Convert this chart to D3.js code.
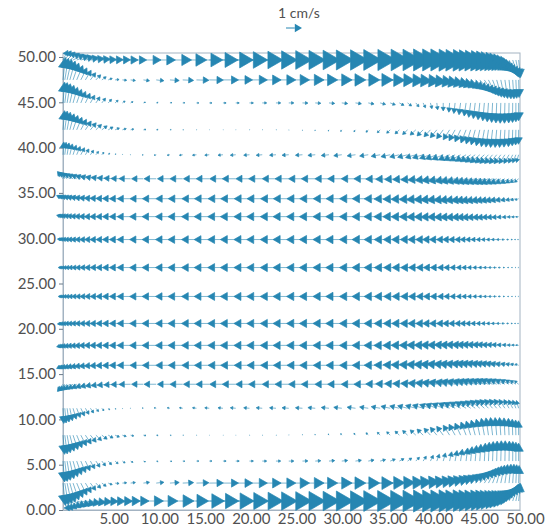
<!DOCTYPE html>
<html><head><meta charset="utf-8">
<script src="https://cdn.jsdelivr.net/npm/d3@7"></script>
<style>
body{margin:0;background:#fff}
svg{display:block}
text{font-family:Lato,"Open Sans",sans-serif}
</style></head><body>
<svg id="chart" width="556" height="527"></svg>
<script>
// Grid columns (cm): 15 near the left wall, 18 in the interior, 26 near the right wall
const xCols = [0,0.2,0.45,0.75,1.1,1.5,1.95,2.45,3.0,3.6,4.25,4.95,5.7,6.5,7.4,
  8.8,10.2,11.7,13.1,14.6,16.0,17.5,18.9,20.4,21.8,23.3,24.7,26.2,27.6,29.1,30.5,32.0,33.4,
  34.7,35.8,36.8,37.7,38.6,39.4,40.2,40.9,41.6,42.3,42.9,43.5,44.1,44.6,45.1,45.6,46.1,46.55,47.0,47.45,47.9,48.35,48.8,49.2,49.55,49.85];

// Grid rows (cm), top to bottom
const yRows = [49.67,47.47,44.93,41.96,39.21,36.56,34.36,32.38,29.85,26.76,23.57,20.59,18.17,15.97,13.88,11.23,8.26,5.40,2.97,0.99];

// Horizontal velocity u (cm/s), one list per row
const uRows = [
 [0.3,0.4,0.5,0.6,0.68,0.75,0.8,0.84,0.87,0.9,0.92,0.94,0.96,0.98,1.0, 1.1,1.2,1.35,1.5,1.65,1.8,1.9,2.0,2.1,2.2,2.25,2.3,2.35,2.4,2.45,2.5,2.55,2.6, 2.6,2.65,2.65,2.65,2.65,2.6,2.6,2.55,2.5,2.45,2.4,2.3,2.2,2.1,2.0,1.85,1.7,1.5,1.3,1.1,0.9,0.7,0.5,0.35,0.22,0.12],
 [0.15,0.22,0.28,0.33,0.36,0.38,0.38,0.36,0.33,0.3,0.27,0.25,0.25,0.27,0.3, 0.38,0.48,0.58,0.68,0.78,0.88,0.97,1.05,1.12,1.18,1.24,1.3,1.35,1.4,1.45,1.5,1.52,1.55, 1.55,1.55,1.55,1.52,1.5,1.45,1.4,1.35,1.28,1.2,1.12,1.03,0.94,0.85,0.75,0.65,0.55,0.46,0.38,0.3,0.23,0.17,0.12,0.08,0.05,0.03],
 [0.1,0.15,0.2,0.25,0.28,0.3,0.3,0.29,0.27,0.25,0.23,0.21,0.19,0.17,0.15, 0.13,0.12,0.12,0.13,0.15,0.17,0.2,0.22,0.25,0.28,0.3,0.32,0.34,0.35,0.36,0.37,0.37,0.36, 0.34,0.32,0.29,0.25,0.2,0.15,0.1,0.05,0,-0.05,-0.08,-0.1,-0.12,-0.12,-0.12,-0.11,-0.1,-0.08,-0.06,-0.05,-0.04,-0.03,-0.02,-0.01,0,0],
 [0.1,0.15,0.2,0.26,0.3,0.33,0.35,0.36,0.36,0.35,0.33,0.3,0.27,0.24,0.2, 0.16,0.12,0.08,0.05,0.03,0.02,0.02,0.02,0.03,0.03,0.03,0.02,0,-0.02,-0.04,-0.07,-0.1,-0.14, -0.18,-0.22,-0.27,-0.31,-0.35,-0.38,-0.4,-0.41,-0.41,-0.4,-0.38,-0.35,-0.32,-0.28,-0.25,-0.22,-0.19,-0.16,-0.13,-0.1,-0.08,-0.06,-0.04,-0.03,-0.02,-0.01],
 [0.05,0.08,0.12,0.16,0.2,0.22,0.23,0.22,0.2,0.17,0.13,0.09,0.05,0.01,-0.03, -0.08,-0.13,-0.17,-0.21,-0.25,-0.28,-0.31,-0.34,-0.36,-0.38,-0.4,-0.42,-0.44,-0.46,-0.48,-0.5,-0.52,-0.54, -0.56,-0.58,-0.6,-0.62,-0.64,-0.66,-0.68,-0.7,-0.7,-0.7,-0.7,-0.68,-0.66,-0.64,-0.62,-0.6,-0.57,-0.54,-0.5,-0.46,-0.42,-0.37,-0.32,-0.26,-0.2,-0.14],
 [-0.35,-0.4,-0.44,-0.48,-0.52,-0.55,-0.58,-0.61,-0.63,-0.65,-0.67,-0.69,-0.7,-0.71,-0.72, -0.74,-0.76,-0.78,-0.8,-0.81,-0.82,-0.83,-0.84,-0.85,-0.85,-0.86,-0.86,-0.87,-0.87,-0.88,-0.88,-0.89,-0.9, -0.9,-0.91,-0.92,-0.93,-0.94,-0.95,-0.95,-0.95,-0.94,-0.93,-0.92,-0.9,-0.88,-0.86,-0.84,-0.82,-0.8,-0.77,-0.74,-0.7,-0.66,-0.6,-0.53,-0.45,-0.36,-0.26],
 [-0.4,-0.45,-0.5,-0.54,-0.58,-0.62,-0.65,-0.68,-0.71,-0.73,-0.75,-0.77,-0.79,-0.81,-0.83, -0.84,-0.86,-0.88,-0.9,-0.91,-0.92,-0.93,-0.94,-0.95,-0.95,-0.96,-0.96,-0.97,-0.97,-0.98,-0.98,-0.99,-1.0, -1.0,-1.01,-1.02,-1.03,-1.04,-1.04,-1.04,-1.03,-1.02,-1.0,-0.98,-0.96,-0.94,-0.92,-0.9,-0.87,-0.84,-0.8,-0.76,-0.72,-0.67,-0.6,-0.52,-0.43,-0.33,-0.22],
 [-0.4,-0.45,-0.5,-0.54,-0.58,-0.62,-0.65,-0.68,-0.71,-0.73,-0.75,-0.77,-0.79,-0.81,-0.84, -0.86,-0.88,-0.9,-0.92,-0.93,-0.94,-0.95,-0.96,-0.97,-0.97,-0.98,-0.98,-0.99,-0.99,-1.0,-1.0,-1.0,-1.01, -1.01,-1.02,-1.03,-1.03,-1.03,-1.02,-1.01,-1.0,-0.98,-0.96,-0.94,-0.92,-0.9,-0.87,-0.84,-0.8,-0.76,-0.72,-0.67,-0.62,-0.56,-0.49,-0.41,-0.33,-0.25,-0.17],
 [-0.35,-0.4,-0.45,-0.5,-0.54,-0.58,-0.62,-0.65,-0.68,-0.71,-0.74,-0.76,-0.79,-0.81,-0.84, -0.86,-0.88,-0.9,-0.92,-0.93,-0.94,-0.95,-0.96,-0.97,-0.97,-0.98,-0.98,-0.99,-0.99,-1.0,-1.0,-1.0,-1.01, -1.0,-1.0,-1.0,-0.99,-0.97,-0.95,-0.92,-0.89,-0.86,-0.82,-0.78,-0.74,-0.7,-0.65,-0.6,-0.55,-0.5,-0.44,-0.38,-0.32,-0.26,-0.2,-0.15,-0.11,-0.08,-0.06],
 [-0.3,-0.35,-0.4,-0.45,-0.5,-0.54,-0.58,-0.62,-0.66,-0.7,-0.73,-0.76,-0.79,-0.81,-0.84, -0.86,-0.88,-0.9,-0.92,-0.93,-0.94,-0.95,-0.96,-0.97,-0.97,-0.98,-0.98,-0.99,-0.99,-1.0,-1.0,-1.0,-1.01, -1.0,-0.99,-0.98,-0.96,-0.94,-0.91,-0.88,-0.84,-0.8,-0.75,-0.7,-0.65,-0.6,-0.54,-0.48,-0.42,-0.36,-0.3,-0.25,-0.2,-0.16,-0.12,-0.09,-0.07,-0.05,-0.04],
 [-0.3,-0.35,-0.4,-0.45,-0.5,-0.54,-0.58,-0.62,-0.66,-0.7,-0.73,-0.76,-0.79,-0.81,-0.84, -0.86,-0.88,-0.9,-0.92,-0.93,-0.94,-0.95,-0.96,-0.97,-0.97,-0.98,-0.98,-0.99,-0.99,-1.0,-1.0,-1.0,-1.01, -1.0,-0.99,-0.98,-0.96,-0.94,-0.91,-0.88,-0.84,-0.8,-0.75,-0.7,-0.65,-0.6,-0.54,-0.48,-0.42,-0.36,-0.3,-0.25,-0.2,-0.16,-0.12,-0.09,-0.07,-0.05,-0.04],
 [-0.35,-0.4,-0.45,-0.5,-0.54,-0.58,-0.62,-0.65,-0.68,-0.71,-0.74,-0.76,-0.79,-0.81,-0.84, -0.86,-0.88,-0.9,-0.92,-0.93,-0.94,-0.95,-0.96,-0.97,-0.97,-0.98,-0.98,-0.99,-0.99,-1.0,-1.0,-1.0,-1.01, -1.0,-1.0,-1.0,-0.99,-0.97,-0.95,-0.92,-0.89,-0.86,-0.82,-0.78,-0.74,-0.7,-0.65,-0.6,-0.55,-0.5,-0.44,-0.38,-0.32,-0.26,-0.2,-0.15,-0.11,-0.08,-0.06],
 [-0.4,-0.45,-0.5,-0.54,-0.58,-0.62,-0.65,-0.68,-0.71,-0.73,-0.75,-0.77,-0.79,-0.81,-0.84, -0.86,-0.88,-0.9,-0.92,-0.93,-0.94,-0.95,-0.96,-0.97,-0.97,-0.98,-0.98,-0.99,-0.99,-1.0,-1.0,-1.0,-1.01, -1.01,-1.02,-1.03,-1.03,-1.03,-1.02,-1.01,-1.0,-0.98,-0.96,-0.94,-0.92,-0.9,-0.87,-0.84,-0.8,-0.76,-0.72,-0.67,-0.62,-0.56,-0.49,-0.41,-0.33,-0.25,-0.17],
 [-0.4,-0.45,-0.5,-0.54,-0.58,-0.62,-0.65,-0.68,-0.71,-0.73,-0.75,-0.77,-0.79,-0.81,-0.83, -0.84,-0.86,-0.88,-0.9,-0.91,-0.92,-0.93,-0.94,-0.95,-0.95,-0.96,-0.96,-0.97,-0.97,-0.98,-0.98,-0.99,-1.0, -1.0,-1.01,-1.02,-1.03,-1.04,-1.04,-1.04,-1.03,-1.02,-1.0,-0.98,-0.96,-0.94,-0.92,-0.9,-0.87,-0.84,-0.8,-0.76,-0.72,-0.67,-0.6,-0.52,-0.43,-0.33,-0.22],
 [-0.35,-0.4,-0.44,-0.48,-0.52,-0.55,-0.58,-0.61,-0.63,-0.65,-0.67,-0.69,-0.7,-0.71,-0.72, -0.74,-0.76,-0.78,-0.8,-0.81,-0.82,-0.83,-0.84,-0.85,-0.85,-0.86,-0.86,-0.87,-0.87,-0.88,-0.88,-0.89,-0.9, -0.9,-0.91,-0.92,-0.93,-0.94,-0.95,-0.95,-0.95,-0.94,-0.93,-0.92,-0.9,-0.88,-0.86,-0.84,-0.82,-0.8,-0.77,-0.74,-0.7,-0.66,-0.6,-0.53,-0.45,-0.36,-0.26],
 [0.05,0.08,0.12,0.16,0.2,0.22,0.23,0.22,0.2,0.17,0.13,0.09,0.05,0.01,-0.03, -0.08,-0.13,-0.17,-0.21,-0.25,-0.28,-0.31,-0.34,-0.36,-0.38,-0.4,-0.42,-0.44,-0.46,-0.48,-0.5,-0.52,-0.54, -0.56,-0.58,-0.6,-0.62,-0.64,-0.66,-0.68,-0.7,-0.7,-0.7,-0.7,-0.68,-0.66,-0.64,-0.62,-0.6,-0.57,-0.54,-0.5,-0.46,-0.42,-0.37,-0.32,-0.26,-0.2,-0.14],
 [0.1,0.15,0.2,0.26,0.3,0.33,0.35,0.36,0.36,0.35,0.33,0.3,0.27,0.24,0.2, 0.16,0.12,0.08,0.05,0.03,0.02,0.02,0.02,0.03,0.03,0.03,0.02,0,-0.02,-0.04,-0.07,-0.1,-0.14, -0.18,-0.22,-0.27,-0.31,-0.35,-0.38,-0.4,-0.41,-0.41,-0.4,-0.38,-0.35,-0.32,-0.28,-0.25,-0.22,-0.19,-0.16,-0.13,-0.1,-0.08,-0.06,-0.04,-0.03,-0.02,-0.01],
 [0.1,0.15,0.2,0.25,0.28,0.3,0.3,0.29,0.27,0.25,0.23,0.21,0.19,0.17,0.15, 0.13,0.12,0.12,0.13,0.15,0.17,0.2,0.22,0.25,0.28,0.3,0.32,0.34,0.35,0.36,0.37,0.37,0.36, 0.34,0.32,0.29,0.26,0.23,0.2,0.18,0.16,0.14,0.13,0.12,0.11,0.1,0.09,0.08,0.07,0.06,0.05,0.04,0.03,0.03,0.02,0.02,0.01,0,0],
 [0.15,0.22,0.28,0.33,0.36,0.38,0.38,0.36,0.33,0.3,0.27,0.25,0.25,0.27,0.3, 0.38,0.48,0.58,0.68,0.78,0.88,0.97,1.05,1.12,1.18,1.24,1.3,1.35,1.4,1.45,1.5,1.52,1.55, 1.55,1.55,1.55,1.52,1.5,1.45,1.4,1.35,1.28,1.2,1.12,1.03,0.94,0.85,0.75,0.65,0.55,0.46,0.38,0.3,0.23,0.17,0.12,0.08,0.05,0.03],
 [0.4,0.5,0.6,0.7,0.78,0.85,0.9,0.94,0.97,1.0,1.03,1.06,1.09,1.12,1.15, 1.25,1.35,1.5,1.62,1.75,1.85,1.95,2.05,2.12,2.2,2.25,2.3,2.35,2.4,2.45,2.5,2.52,2.55, 2.6,2.65,2.65,2.65,2.65,2.6,2.6,2.55,2.5,2.45,2.4,2.3,2.2,2.1,2.0,1.85,1.7,1.5,1.3,1.1,0.9,0.7,0.5,0.35,0.22,0.12]
];

// Vertical velocity v (cm/s), one list per row
const vRows = [
 [0.6,0.57,0.5,0.42,0.35,0.28,0.21,0.15,0.1,0.06,0.03,0.02,0.01,0,0, 0,0,0,0,0,0,0,0,0,0,0,0,0,0,0,0,0,0, 0,0,0,0,-0.02,-0.03,-0.04,-0.05,-0.07,-0.09,-0.11,-0.14,-0.17,-0.2,-0.25,-0.3,-0.37,-0.45,-0.55,-0.65,-0.75,-0.85,-0.95,-1.05,-1.1,-1.1],
 [1.4,1.35,1.28,1.18,1.05,0.9,0.75,0.6,0.45,0.32,0.2,0.1,0.03,-0.02,-0.04, -0.05,-0.05,-0.04,-0.03,-0.02,-0.01,0,0,0,0,0,0,0,0,0,0,0,0, -0.02,-0.03,-0.05,-0.07,-0.09,-0.12,-0.15,-0.19,-0.24,-0.3,-0.36,-0.43,-0.5,-0.58,-0.66,-0.75,-0.84,-0.92,-1.0,-1.07,-1.12,-1.16,-1.18,-1.18,-1.15,-1.1],
 [1.3,1.27,1.2,1.1,0.98,0.85,0.72,0.6,0.48,0.38,0.3,0.23,0.17,0.12,0.08, 0.05,0.03,0.02,0.01,0,0,0,0,0,0,0,0,-0.01,-0.02,-0.03,-0.04,-0.05,-0.07, -0.09,-0.12,-0.15,-0.19,-0.24,-0.3,-0.36,-0.43,-0.5,-0.58,-0.66,-0.74,-0.82,-0.9,-0.98,-1.05,-1.12,-1.18,-1.22,-1.25,-1.27,-1.27,-1.25,-1.22,-1.18,-1.12],
 [1.2,1.17,1.1,1.0,0.9,0.78,0.66,0.55,0.44,0.34,0.25,0.18,0.12,0.08,0.05, 0.03,0.02,0.01,0,0,0,0,0,0,0,0,-0.02,-0.04,-0.06,-0.08,-0.1,-0.12,-0.15, -0.18,-0.21,-0.25,-0.29,-0.33,-0.38,-0.43,-0.49,-0.55,-0.62,-0.68,-0.75,-0.82,-0.88,-0.94,-1.0,-1.05,-1.08,-1.1,-1.1,-1.1,-1.08,-1.05,-1.0,-0.95,-0.9],
 [0.8,0.78,0.74,0.68,0.6,0.52,0.44,0.36,0.28,0.21,0.15,0.1,0.06,0.03,0, -0.02,-0.03,-0.03,-0.03,-0.03,-0.03,-0.03,-0.03,-0.03,-0.03,-0.03,-0.03,-0.03,-0.04,-0.05,-0.06,-0.07,-0.08, -0.1,-0.12,-0.14,-0.16,-0.18,-0.2,-0.23,-0.26,-0.29,-0.32,-0.35,-0.38,-0.41,-0.44,-0.47,-0.5,-0.52,-0.54,-0.55,-0.56,-0.56,-0.55,-0.54,-0.52,-0.5,-0.48],
 [0.45,0.43,0.4,0.36,0.32,0.28,0.24,0.2,0.16,0.12,0.09,0.06,0.04,0.02,0.01, 0,0,0,0,0,0,0,0,0,0,0,0,0,0,0,0,0,0, -0.02,-0.03,-0.04,-0.05,-0.06,-0.08,-0.1,-0.12,-0.14,-0.16,-0.18,-0.2,-0.22,-0.24,-0.26,-0.27,-0.28,-0.29,-0.3,-0.3,-0.3,-0.29,-0.28,-0.26,-0.24,-0.22],
 [0.2,0.19,0.18,0.16,0.14,0.12,0.1,0.08,0.06,0.04,0.03,0.02,0.01,0,0, 0,0,0,0,0,0,0,0,0,0,0,0,0,0,0,0,0,0, -0.01,-0.02,-0.03,-0.04,-0.05,-0.06,-0.07,-0.08,-0.09,-0.1,-0.11,-0.12,-0.13,-0.14,-0.15,-0.15,-0.15,-0.15,-0.15,-0.14,-0.13,-0.12,-0.11,-0.1,-0.09,-0.08],
 [0.08,0.08,0.07,0.06,0.05,0.04,0.03,0.02,0.01,0,0,0,0,0,0, 0,0,0,0,0,0,0,0,0,0,0,0,0,0,0,0,0,0, 0,0,0,-0.01,-0.01,-0.02,-0.02,-0.03,-0.03,-0.04,-0.04,-0.05,-0.05,-0.05,-0.06,-0.06,-0.06,-0.06,-0.05,-0.05,-0.05,-0.04,-0.04,-0.03,-0.03,-0.02],
 [0.03,0.03,0.02,0.02,0.01,0.01,0,0,0,0,0,0,0,0,0, 0,0,0,0,0,0,0,0,0,0,0,0,0,0,0,0,0,0, 0,0,0,0,0,0,0,0,0,0,0,0,0,0,0,0,0,0,0,0,0,0,0,0,0,0],
 [0,0,0,0,0,0,0,0,0,0,0,0,0,0,0, 0,0,0,0,0,0,0,0,0,0,0,0,0,0,0,0,0,0, 0,0,0,0,0,0,0,0,0,0,0,0,0,0,0,0,0,0,0,0,0,0,0,0,0,0],
 [0,0,0,0,0,0,0,0,0,0,0,0,0,0,0, 0,0,0,0,0,0,0,0,0,0,0,0,0,0,0,0,0,0, 0,0,0,0,0,0,0,0,0,0,0,0,0,0,0,0,0,0,0,0,0,0,0,0,0,0],
 [-0.03,-0.03,-0.02,-0.02,-0.01,-0.01,0,0,0,0,0,0,0,0,0, 0,0,0,0,0,0,0,0,0,0,0,0,0,0,0,0,0,0, 0,0,0,0,0,0,0,0,0,0,0,0,0,0,0,0,0,0,0,0,0,0,0,0,0,0],
 [-0.08,-0.08,-0.07,-0.06,-0.05,-0.04,-0.03,-0.02,-0.01,0,0,0,0,0,0, 0,0,0,0,0,0,0,0,0,0,0,0,0,0,0,0,0,0, 0,0,0,0.01,0.01,0.02,0.02,0.03,0.03,0.04,0.04,0.05,0.05,0.05,0.06,0.06,0.06,0.06,0.05,0.05,0.05,0.04,0.04,0.03,0.03,0.02],
 [-0.2,-0.19,-0.18,-0.16,-0.14,-0.12,-0.1,-0.08,-0.06,-0.04,-0.03,-0.02,-0.01,0,0, 0,0,0,0,0,0,0,0,0,0,0,0,0,0,0,0,0,0, 0.01,0.02,0.03,0.04,0.05,0.06,0.07,0.08,0.09,0.1,0.11,0.12,0.13,0.14,0.15,0.15,0.15,0.15,0.15,0.14,0.13,0.12,0.11,0.1,0.09,0.08],
 [-0.45,-0.43,-0.4,-0.36,-0.32,-0.28,-0.24,-0.2,-0.16,-0.12,-0.09,-0.06,-0.04,-0.02,-0.01, 0,0,0,0,0,0,0,0,0,0,0,0,0,0,0,0,0,0, 0.02,0.03,0.04,0.05,0.06,0.08,0.1,0.12,0.14,0.16,0.18,0.2,0.22,0.24,0.26,0.27,0.28,0.29,0.3,0.3,0.3,0.29,0.28,0.26,0.24,0.22],
 [-0.95,-0.92,-0.86,-0.78,-0.68,-0.58,-0.48,-0.38,-0.29,-0.21,-0.15,-0.1,-0.06,-0.03,0, 0.02,0.03,0.03,0.03,0.03,0.03,0.03,0.03,0.03,0.03,0.03,0.03,0.03,0.04,0.05,0.06,0.07,0.08, 0.1,0.12,0.14,0.16,0.18,0.2,0.23,0.26,0.29,0.32,0.35,0.38,0.41,0.44,0.47,0.5,0.52,0.54,0.55,0.56,0.56,0.55,0.54,0.52,0.5,0.48],
 [-1.2,-1.17,-1.1,-1.0,-0.9,-0.78,-0.66,-0.55,-0.44,-0.34,-0.25,-0.18,-0.12,-0.08,-0.05, -0.03,-0.02,-0.01,0,0,0,0,0,0,0,0,0.02,0.04,0.06,0.08,0.1,0.12,0.15, 0.18,0.21,0.25,0.29,0.33,0.38,0.43,0.49,0.55,0.62,0.68,0.75,0.82,0.88,0.94,1.0,1.05,1.08,1.1,1.1,1.1,1.08,1.05,1.0,0.95,0.9],
 [-1.3,-1.27,-1.2,-1.1,-0.98,-0.85,-0.72,-0.6,-0.48,-0.38,-0.3,-0.23,-0.17,-0.12,-0.08, -0.05,-0.03,-0.02,-0.01,0,0,0,0,0,0,0,0,0.01,0.02,0.03,0.04,0.05,0.07, 0.09,0.12,0.15,0.19,0.24,0.3,0.36,0.43,0.5,0.58,0.66,0.74,0.82,0.9,0.98,1.05,1.12,1.18,1.22,1.25,1.27,1.27,1.25,1.22,1.18,1.12],
 [-1.4,-1.35,-1.28,-1.18,-1.05,-0.9,-0.75,-0.6,-0.45,-0.32,-0.2,-0.1,-0.03,0.02,0.04, 0.05,0.05,0.04,0.03,0.02,0.01,0,0,0,0,0,0,0,0,0,0,0,0, 0.02,0.03,0.05,0.07,0.09,0.12,0.15,0.19,0.24,0.3,0.36,0.43,0.5,0.58,0.66,0.75,0.84,0.92,1.0,1.07,1.12,1.16,1.18,1.18,1.15,1.1],
 [-0.6,-0.57,-0.5,-0.42,-0.35,-0.28,-0.21,-0.15,-0.1,-0.06,-0.03,-0.02,-0.01,0,0, 0,0,0,0,0,0,0,0,0,0,0,0,0,0,0,0,0,0, 0,0,0,0,0.02,0.03,0.04,0.05,0.07,0.09,0.11,0.14,0.17,0.2,0.25,0.3,0.37,0.45,0.55,0.65,0.75,0.85,0.95,1.05,1.1,1.1]
];

const xTickValues = [5,10,15,20,25,30,35,40,45,50];
const yTickValues = [0,5,10,15,20,25,30,35,40,45,50];
const refSpeed = 1;            // cm/s
const refLabel = "1 cm/s";

const arrowColor = "#2686b2";
const axisColor = "#a3b3c2";
const labelFont = "Lato, 'Open Sans', sans-serif";

const svg = d3.select("#chart");
const x = d3.scaleLinear().domain([0, 50]).range([63, 520]);
const y = d3.scaleLinear().domain([0, 50]).range([510, 57]);
const speedPx = d3.scaleLinear().domain([0, 1]).range([0, 16]); // pixels per cm/s

// plot frame
svg.append("rect")
  .attr("x", x(0)).attr("y", 53)
  .attr("width", x(50) - x(0)).attr("height", y(0) - 53)
  .attr("fill", "none").attr("stroke", axisColor).attr("stroke-width", 1);

// axes
const fmt = d3.format(".2f");
const yAxis = svg.append("g").attr("transform", `translate(${x(0)},0)`)
  .call(d3.axisLeft(y).tickValues(yTickValues).tickFormat(fmt).tickSize(4).tickPadding(3));
const xAxis = svg.append("g").attr("transform", `translate(0,${y(0)})`)
  .call(d3.axisBottom(x).tickValues(xTickValues).tickFormat(fmt).tickSize(0).tickPadding(3));
[yAxis, xAxis].forEach(g => {
  g.select(".domain").attr("stroke", axisColor);
  g.selectAll(".tick line").attr("stroke", "#6a7a88");
  g.selectAll("text").attr("fill", "#505050").style("font-size", "15px")
    .style("font-family", labelFont);
});
xAxis.selectAll("text").attr("dx", 5);

// one record per grid node
const arrows = [];
yRows.forEach((yv, r) => {
  xCols.forEach((xv, c) => {
    arrows.push({x: xv, y: yv, u: uRows[r][c], v: vRows[r][c]});
  });
});

// shaft + filled head, head size proportional to the vector length
function arrowParts(bx, by, dx, dy) {
  const L = Math.hypot(dx, dy);
  if (!(L > 0.05)) return null;
  const ux = dx / L, uy = dy / L;
  const tx = bx + dx, ty = by + dy;
  const hl = 0.45 * L, hw = 0.26 * L;
  const back = [tx - ux * hl, ty - uy * hl];
  const p1 = [back[0] - uy * hw, back[1] + ux * hw];
  const p2 = [back[0] + uy * hw, back[1] - ux * hw];
  return {
    shaft: `M${bx},${by}L${back[0]},${back[1]}`,
    head: `M${tx},${ty}L${p1[0]},${p1[1]}L${p2[0]},${p2[1]}Z`
  };
}

const parts = arrows.map(a => arrowParts(x(a.x), y(a.y), speedPx(a.u), -speedPx(a.v))).filter(p => p);

const field = svg.append("g");
field.append("g").selectAll("path").data(parts).join("path")
  .attr("d", p => p.shaft).attr("stroke", arrowColor).attr("stroke-width", 0.6).attr("fill", "none");
field.append("g").selectAll("path").data(parts).join("path")
  .attr("d", p => p.head).attr("fill", arrowColor).attr("stroke", arrowColor)
  .attr("stroke-width", 0.7).attr("stroke-linejoin", "round");

// reference vector
svg.append("text").attr("x", 299).attr("y", 18).attr("text-anchor", "middle")
  .attr("fill", "#505050").style("font-size", "14px").style("font-family", labelFont).text(refLabel);
const ref = arrowParts(286, 28, speedPx(refSpeed), 0);
svg.append("path").attr("d", ref.shaft).attr("stroke", arrowColor).attr("stroke-width", 1).attr("fill", "none");
svg.append("path").attr("d", ref.head).attr("fill", arrowColor);
</script>
</body></html>
